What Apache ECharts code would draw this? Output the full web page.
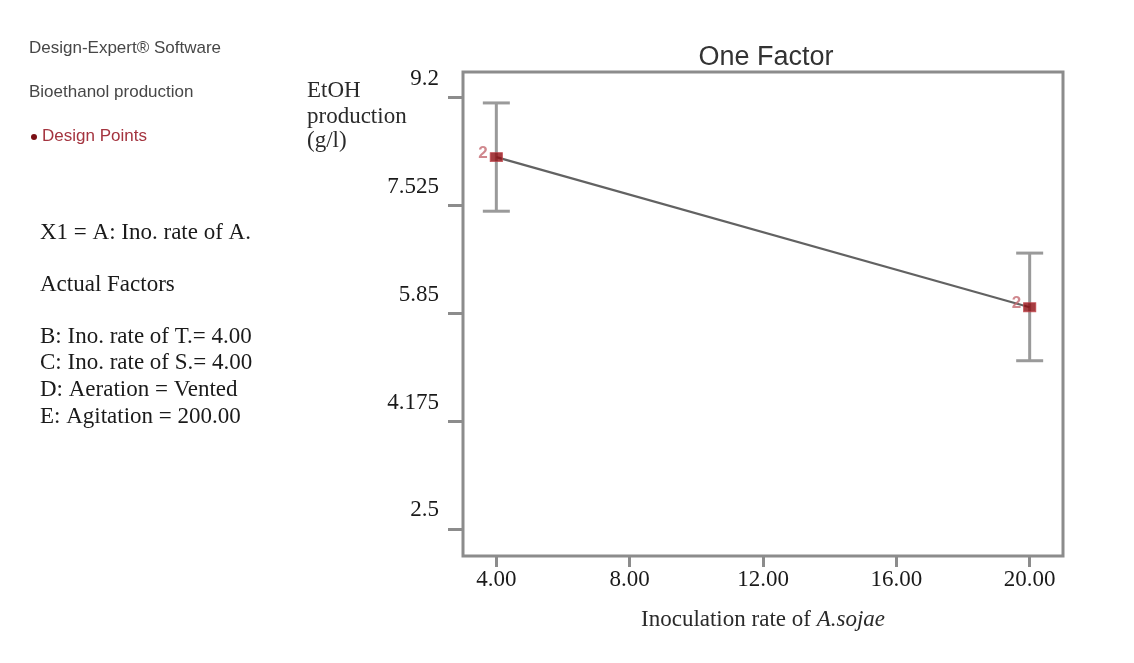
<!DOCTYPE html>
<html>
<head>
<meta charset="utf-8">
<title>One Factor</title>
<script src="https://cdn.jsdelivr.net/npm/echarts@6/dist/echarts.min.js"></script>
<style>
  html, body { margin: 0; padding: 0; background: #ffffff; }
  #chart { width: 1134px; height: 663px; }
</style>
</head>
<body>
<div id="chart"></div>
<script>
// Inoculation rate of A. sojae (x) and predicted EtOH production (g/l)
const xTicks = [4, 8, 12, 16, 20];
const xTickLabels = ['4.00', '8.00', '12.00', '16.00', '20.00'];
const yTicks = [2.5, 4.175, 5.85, 7.525, 9.2];
const yTickLabels = ['2.5', '4.175', '5.85', '7.525', '9.2'];

const inoculationRate = [4, 20];
const ethanolMean = [8.27, 5.94];
const intervalLow = [7.43, 5.11];
const intervalHigh = [9.11, 6.78];
const replicates = [2, 2];

const sideNotes = [
  'X1 = A: Ino. rate of A.',
  'Actual Factors',
  'B: Ino. rate of T.= 4.00',
  'C: Ino. rate of S.= 4.00',
  'D: Aeration = Vented',
  'E: Agitation = 200.00'
];
const headerNotes = ['Design-Expert\u00ae Software', 'Bioethanol production', 'Design Points'];
const yAxisTitle = ['EtOH', 'production', '(g/l)'];

const SERIF = "'Liberation Serif', 'Times New Roman', serif";
const SANS = "'Liberation Sans', Arial, sans-serif";
const FRAME = '#8c8c8c';

function labelFor(values, labels, v) {
  let best = 0;
  values.forEach((t, i) => { if (Math.abs(t - v) < Math.abs(values[best] - v)) best = i; });
  return labels[best];
}

const meanPoints = inoculationRate.map((x, i) => [x, ethanolMean[i]]);
const barData = inoculationRate.map((x, i) => [x, intervalLow[i], intervalHigh[i]]);

const graphics = [];
// header block (software / response / legend)
const headerY = [48, 92, 136];
headerNotes.forEach((t, i) => {
  graphics.push({
    type: 'text', x: i === 2 ? 42 : 29, y: headerY[i],
    style: {
      text: t, font: '17px ' + SANS,
      fill: i === 2 ? '#a4343f' : '#474747',
      textVerticalAlign: 'middle'
    }
  });
});
graphics.push({ type: 'circle', shape: { cx: 34, cy: 137, r: 3 }, style: { fill: '#7a0f14' } });

// factor settings
const noteY = [233, 285, 337, 363, 390, 417];
sideNotes.forEach((t, i) => {
  graphics.push({
    type: 'text', x: 40, y: noteY[i],
    style: { text: t, font: '23px ' + SERIF, fill: '#1a1a1a', textVerticalAlign: 'middle' }
  });
});

// response axis title
const titleY = [91, 117, 141];
yAxisTitle.forEach((t, i) => {
  graphics.push({
    type: 'text', x: 307, y: titleY[i],
    style: { text: t, font: '23px ' + SERIF, fill: '#2a2a2a', textVerticalAlign: 'middle' }
  });
});

const chart = echarts.init(document.getElementById('chart'), null, { renderer: 'canvas' });

chart.setOption({
  backgroundColor: '#ffffff',
  animation: false,
  title: {
    text: 'One Factor',
    left: 761, top: 39, textAlign: 'center',
    textStyle: { fontFamily: SANS, fontSize: 27, fontWeight: 'normal', color: '#333333' }
  },
  grid: {
    left: 463, right: 71, top: 72, bottom: 107,
    show: true, borderColor: FRAME, borderWidth: 3, backgroundColor: '#ffffff'
  },
  xAxis: {
    type: 'value', min: 3, max: 21,
    axisLine: { show: false },
    splitLine: { show: false },
    axisTick: { show: true, customValues: xTicks, length: 11, lineStyle: { color: FRAME, width: 3 } },
    axisLabel: {
      customValues: xTicks, margin: 12,
      fontFamily: SERIF, fontSize: 23, color: '#1a1a1a', lineHeight: 23,
      formatter: v => labelFor(xTicks, xTickLabels, v)
    },
    name: 'Inoculation rate of {i|A.sojae}',
    nameLocation: 'middle', nameGap: 52,
    nameTextStyle: {
      fontFamily: SERIF, fontSize: 23, color: '#2a2a2a', lineHeight: 23,
      rich: { i: { fontFamily: SERIF, fontSize: 23, fontStyle: 'italic', color: '#2a2a2a' } }
    }
  },
  yAxis: {
    type: 'value', min: 2.08, max: 9.59,
    axisLine: { show: false },
    splitLine: { show: false },
    axisTick: { show: true, customValues: yTicks, length: 15, lineStyle: { color: FRAME, width: 3 } },
    axisLabel: {
      customValues: yTicks, margin: 24,
      fontFamily: SERIF, fontSize: 23, color: '#1a1a1a', lineHeight: 23,
      verticalAlign: 'bottom', padding: [0, 0, 7, 0],
      formatter: v => labelFor(yTicks, yTickLabels, v)
    }
  },
  graphic: graphics,
  series: [
    {
      // confidence bars around each predicted mean
      type: 'custom',
      data: barData,
      z: 2,
      renderItem: (params, api) => {
        const x = api.value(0);
        const lo = api.coord([x, api.value(1)]);
        const hi = api.coord([x, api.value(2)]);
        const half = 13.5;
        const style = { stroke: '#9a9a9a', lineWidth: 3 };
        return {
          type: 'group',
          children: [
            { type: 'line', shape: { x1: lo[0], y1: lo[1], x2: hi[0], y2: hi[1] }, style },
            { type: 'line', shape: { x1: hi[0] - half, y1: hi[1], x2: hi[0] + half, y2: hi[1] }, style },
            { type: 'line', shape: { x1: lo[0] - half, y1: lo[1], x2: lo[0] + half, y2: lo[1] }, style }
          ]
        };
      }
    },
    {
      type: 'line',
      data: meanPoints,
      showSymbol: false,
      z: 3,
      lineStyle: { color: '#626262', width: 2.2 }
    },
    {
      type: 'scatter',
      data: meanPoints,
      symbol: 'rect',
      symbolSize: [12, 9],
      z: 4,
      itemStyle: { color: '#8e0d12', borderColor: '#c0454b', borderWidth: 1 },
      label: {
        show: true, position: 'left', distance: 2, offset: [0, -4],
        fontFamily: SANS, fontSize: 17, fontWeight: 'bold', color: '#c46a72',
        formatter: p => String(replicates[p.dataIndex])
      }
    }
  ]
});
</script>
</body>
</html>
